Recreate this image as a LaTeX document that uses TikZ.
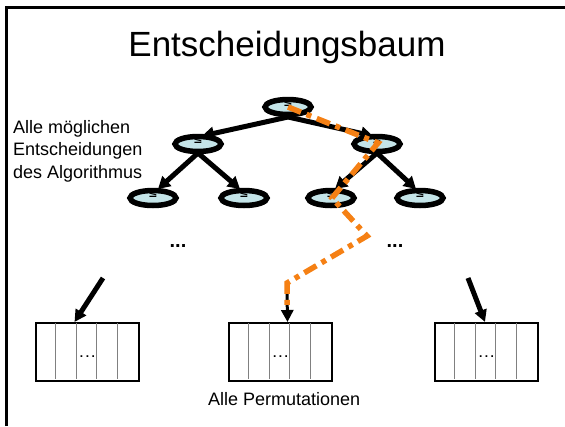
\documentclass[tikz,border=0pt]{standalone}
\usepackage{fontspec}
\setmainfont{Liberation Sans}
\newfontfamily\symfont{DejaVu Sans}
\usetikzlibrary{shapes.geometric,arrows.meta}
\definecolor{nodefill}{RGB}{196,228,232}
\definecolor{pathorange}{RGB}{245,128,20}
\tikzset{
  dnode/.style={ellipse, draw=black, line width=5.5pt, fill=nodefill,
    minimum width=46pt, minimum height=15pt, inner sep=0pt, outer sep=0pt},
  treearrow/.style={line width=5pt, -{Triangle[length=12pt,width=13pt]}},
  chosen/.style={line width=5.5pt, draw=pathorange,
    dash pattern=on 14pt off 6pt on 5pt off 6pt, line join=miter},
  celltext/.style={font=\bfseries\fontsize{12}{12}\selectfont, inner sep=0pt},
  label/.style={font=\fontsize{18}{22}\selectfont, inner sep=0pt},
}
\begin{document}
\begin{tikzpicture}[x=1pt,y=-1pt]
\useasboundingbox (0,0) rectangle (565,426);
% slide frame (top and left edges)
\draw[line width=2.5pt] (6.5,426) -- (6.5,7.5) -- (565,7.5);

% title
\node[anchor=base, font=\fontsize{35}{40}\selectfont, inner sep=0pt] (title) at (287,56) {Entscheidungsbaum};

% left caption
\node[label, anchor=base west] (l1) at (13,133) {Alle möglichen};
\node[label, anchor=base west] (l2) at (13,155) {Entscheidungen};
\node[label, anchor=base west] (l3) at (13,178) {des Algorithmus};

% decision tree nodes
\coordinate (pr) at (288,107);
\coordinate (pa) at (198,144);
\coordinate (pb) at (377,144);
\coordinate (paa) at (153,198);
\coordinate (pab) at (244,198);
\coordinate (pba) at (331,198);
\coordinate (pbb) at (420,198);

% edges first, ellipses on top
\draw[treearrow] (288,117) -- (202,136);
\draw[treearrow] (288,117) -- (373,136);
\draw[treearrow] (198,153) -- (158,189);
\draw[treearrow] (198,153) -- (240,189);
\draw[treearrow] (377,153) -- (335,189);
\draw[treearrow] (377,153) -- (416,189);

\foreach \n/\p in {r/pr, a/pa, b/pb, aa/paa, ab/pab, ba/pba, bb/pbb}{
  \node[dnode] (\n) at (\p) {};
  \node[inner sep=0pt, font=\symfont\bfseries\fontsize{11}{11}\selectfont] (\n le) at ([yshift=4pt]\p) {≤};
}

% continuation dots
\node[font=\bfseries\fontsize{20}{20}\selectfont, inner sep=0pt] (dl) at (178,246) {...};
\node[font=\bfseries\fontsize{20}{20}\selectfont, inner sep=0pt] (dr) at (395,246) {...};

% permutation arrays
\foreach \n/\x in {pl/35, pm/228, pq/434}{
  \node[draw=black, line width=2pt, minimum width=103pt, minimum height=58pt,
        inner sep=0pt, anchor=north west] (\n) at (\x,322) {};
  \foreach \k in {1,2,3,4}{
    \draw[gray, line width=1.3pt] (\x+20.6*\k,323) -- (\x+20.6*\k,379);
  }
  \node[celltext] (\n dots) at ([yshift=-5pt]\n.center) {.\hspace{2.5pt}.\hspace{2.5pt}.};
}

% arrows into the arrays
\coordinate (sl) at (103,278);
\coordinate (sq) at (468,278);
\coordinate (sm) at (287,292);
\draw[treearrow, -{Triangle[length=12pt,width=12pt]}] (sl) -- ([xshift=-13pt]pl.north);
\draw[treearrow, -{Triangle[length=12pt,width=12pt]}] (sq) -- ([xshift=-1.5pt]pq.north);
\draw[treearrow, line width=3pt, -{Triangle[length=12pt,width=12pt]}] (sm) -- ([xshift=7pt]pm.north);

% chosen path through the tree
\coordinate (k1) at (378,143);
\coordinate (k2) at (332,198);
\coordinate (k3) at (367,236);
\coordinate (k4) at (287,283);
\coordinate (k5) at (287,308);
\draw[chosen] (pr) -- (k1) -- (k2) -- (k3) -- (k4) -- (k5);

\node[label, anchor=base west] (perm) at (208,405) {Alle Permutationen};
\end{tikzpicture}
\end{document}
